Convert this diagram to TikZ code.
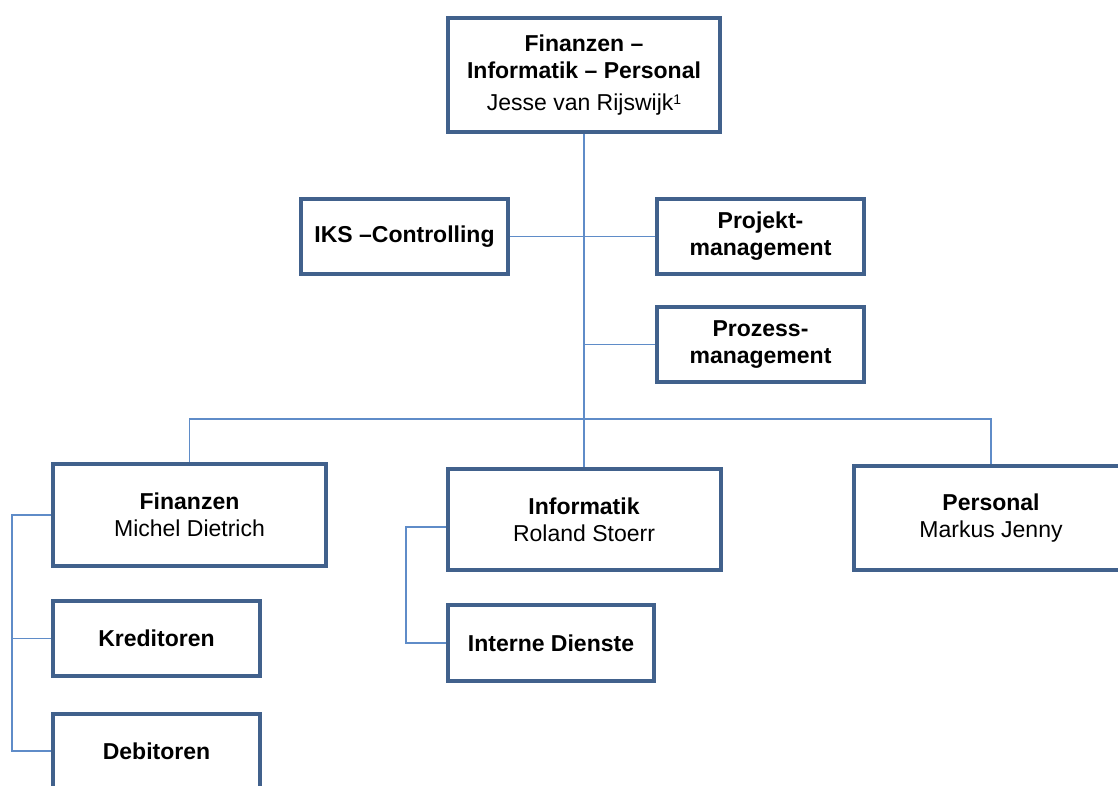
\documentclass[tikz,border=0pt]{standalone}
\usepackage{fontspec}
\setmainfont{Liberation Sans}
\definecolor{boxborder}{RGB}{65,97,140}
\definecolor{linkblue}{RGB}{95,140,200}
\newcommand{\supone}{{\fontsize{14}{14}\selectfont\raisebox{6pt}{1}}}
\begin{document}
\begin{tikzpicture}[x=1pt,y=-1pt,
  orgbox/.style={draw=boxborder, line width=4pt, fill=white, rectangle, inner sep=0pt,
    align=center, font=\fontsize{23}{27}\selectfont, text=black},
  smallbox/.style={orgbox, minimum width=207pt, minimum height=75pt},
  bigbox/.style={orgbox, minimum width=273pt, minimum height=102pt},
  link/.style={draw=linkblue, line width=1.5pt}]
\useasboundingbox (0,0) rectangle (1118,785);
% nodes
\node[orgbox, minimum width=272pt, minimum height=114pt] (top) at (584,75)
  {\textbf{Finanzen –}\\\textbf{Informatik – Personal}\\[5pt]Jesse van Rijswijk\supone};
\node[smallbox] (iks) at (404.5,236.5) {\textbf{IKS –Controlling}};
\node[smallbox] (proj) at (760.5,236.5) {\textbf{Projekt-}\\\textbf{management}};
\node[smallbox] (proz) at (760.5,344.5) {\textbf{Prozess-}\\\textbf{management}};
\node[bigbox] (fin) at (189.5,515) {\textbf{Finanzen}\\Michel Dietrich};
\node[bigbox, minimum height=101pt] (inf) at (584,519.5) {\textbf{Informatik}\\Roland Stoerr};
\node[bigbox, minimum width=274pt, minimum height=104pt] (pers) at (991,518) {\textbf{Personal}\\Markus Jenny};
\node[smallbox] (kred) at (156.5,638.5) {\textbf{Kreditoren}};
\node[smallbox] (deb) at (156.5,751) {\textbf{Debitoren}};
\node[smallbox, minimum width=206pt, minimum height=76pt] (intd) at (551,643) {\textbf{Interne Dienste}};
% helper coordinates
\coordinate (bus) at (189.5,419);
\coordinate (fl) at (12,515);
\coordinate (il) at (406,527);
% connectors
\draw[link] (top.south) -- (inf.north);
\draw[link] (iks.east) -- (proj.west);
\draw[link] (proz.west) -- (proz.west -| top.south);
\draw[link] (fin.north) -- (bus) -- (bus -| pers.north) -- (pers.north);
\draw[link] (fin.west) -- (fin.west -| fl) |- (deb.west);
\draw[link] (kred.west) -- (kred.west -| fl);
\draw[link] (inf.west |- il) -- (il) |- (intd.west);
\end{tikzpicture}
\end{document}
